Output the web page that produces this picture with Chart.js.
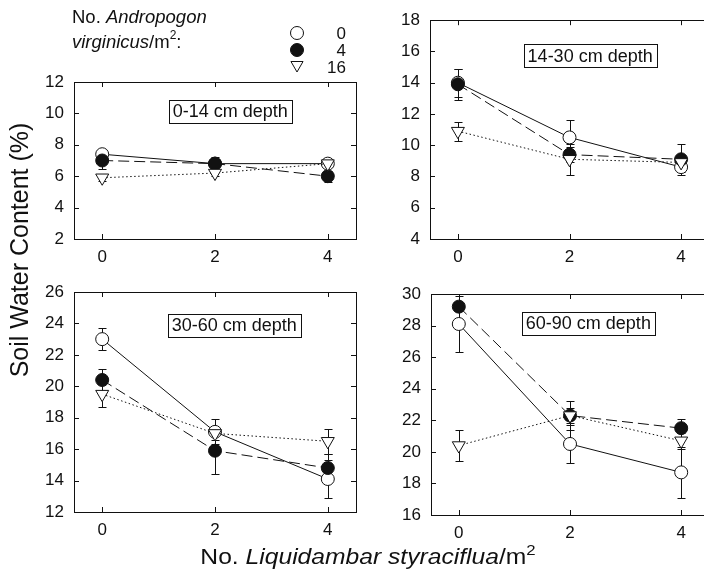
<!DOCTYPE html>
<html>
<head>
<meta charset="utf-8">
<script src="https://cdn.jsdelivr.net/npm/chart.js@4.4.0/dist/chart.umd.min.js"></script>
<style>
  html, body { margin: 0; padding: 0; background: #fff; overflow: hidden; }
  #page { position: relative; width: 704px; height: 577px; overflow: hidden; }
  canvas { position: absolute; left: 0; top: 0; }
</style>
</head>
<body>
<div id="page">
  <canvas id="p1" width="720" height="577"></canvas>
  <canvas id="p2" width="720" height="577"></canvas>
  <canvas id="p3" width="720" height="577"></canvas>
  <canvas id="p4" width="720" height="577"></canvas>
</div>
<script>
const FONT = '"Liberation Sans", Arial, Helvetica, sans-serif';
const INK = "#111";

// ===== Data =====
const xValues = [0, 2, 4]; // No. Liquidambar styraciflua / m2
const xTicks = [0, 2, 4];
const seriesNames = ["0", "4", "16"]; // No. Andropogon virginicus / m2
const depthLabels = ["0-14 cm depth", "14-30 cm depth", "30-60 cm depth", "60-90 cm depth"];
const yRanges = [[2, 12], [4, 18], [12, 26], [16, 30]];

// 0-14 cm
const open0to14 = [7.4, 6.8, 6.8];
const openErr0to14 = [0.3, 0.3, 0.2];
const filled0to14 = [7.0, 6.8, 6.0];
const filledErr0to14 = [0.55, 0.4, 0.35];
const tri0to14 = [5.9, 6.2, 6.8];
const triErr0to14 = [0.2, 0.2, 0.2];

// 14-30 cm
const open14to30 = [14.0, 10.5, 8.6];
const openErr14to30 = [0.9, 1.1, 0.3];
const filled14to30 = [13.9, 9.4, 9.1];
const filledErr14to30 = [1.0, 0.5, 1.0];
const tri14to30 = [10.9, 9.1, 8.9];
const triErr14to30 = [0.6, 1.0, 0.3];

// 30-60 cm
const open30to60 = [23.0, 17.1, 14.1];
const openErr30to60 = [0.7, 0.8, 1.2];
const filled30to60 = [20.4, 15.9, 14.8];
const filledErr30to60 = [0.7, 1.5, 0.9];
const tri30to60 = [19.5, 17.0, 16.5];
const triErr30to60 = [0.8, 0.4, 0.8];

// 60-90 cm
const open60to90 = [28.1, 20.5, 18.7];
const openErr60to90 = [1.8, 1.2, 1.6];
const filled60to90 = [29.2, 22.3, 21.5];
const filledErr60to90 = [0.8, 0.5, 0.6];
const tri60to90 = [20.4, 22.3, 20.7];
const triErr60to90 = [1.0, 0.9, 0.5];

// ===== Layout (plot area of each panel, page pixels) =====
const Y_AXIS_W = 40;
const X_AXIS_H = 30;
const PAGE_W = 720;
const PAGE_H = 577;
const panels = [
  { id: "p1", box: { left: 74, right: 356, top: 82, bottom: 239 }, tagAt: [2.27, 10.15],
    open: open0to14, openErr: openErr0to14, filled: filled0to14, filledErr: filledErr0to14, tri: tri0to14, triErr: triErr0to14 },
  { id: "p2", box: { left: 430, right: 709, top: 17, bottom: 239 }, tagAt: [2.37, 15.73],
    open: open14to30, openErr: openErr14to30, filled: filled14to30, filledErr: filledErr14to30, tri: tri14to30, triErr: triErr14to30 },
  { id: "p3", box: { left: 74, right: 356, top: 292, bottom: 512 }, tagAt: [2.34, 23.9],
    open: open30to60, openErr: openErr30to60, filled: filled30to60, filledErr: filledErr30to60, tri: tri30to60, triErr: triErr30to60 },
  { id: "p4", box: { left: 431, right: 709, top: 294, bottom: 515 }, tagAt: [2.33, 28.16],
    open: open60to90, openErr: openErr60to90, filled: filled60to90, filledErr: filledErr60to90, tri: tri60to90, triErr: triErr60to90 },
];

const toPoints = (values) => xValues.map((x, i) => ({ x, y: values[i] }));

// Frame, inward ticks and error bars, under the markers
const framePlugin = {
  id: "frame",
  beforeDatasetsDraw(chart) {
    const { ctx, chartArea: a, scales: { x, y } } = chart;
    ctx.save();
    ctx.strokeStyle = INK;
    ctx.lineWidth = 1;
    ctx.setLineDash([]);
    ctx.strokeRect(Math.round(a.left) + 0.5, Math.round(a.top) + 0.5,
      Math.round(a.right - a.left), Math.round(a.bottom - a.top));

    ctx.beginPath();
    x.ticks.forEach((t) => {
      const px = Math.round(x.getPixelForValue(t.value)) + 0.5;
      ctx.moveTo(px, a.bottom); ctx.lineTo(px, a.bottom - 5);
      ctx.moveTo(px, a.top); ctx.lineTo(px, a.top + 5);
    });
    y.ticks.forEach((t) => {
      const py = Math.round(y.getPixelForValue(t.value)) + 0.5;
      ctx.moveTo(a.left, py); ctx.lineTo(a.left + 5, py);
      ctx.moveTo(a.right, py); ctx.lineTo(a.right - 5, py);
    });
    ctx.stroke();

    ctx.beginPath();
    chart.data.datasets.forEach((ds) => {
      ds.data.forEach((pt, j) => {
        const e = ds.errors[j];
        if (!e) return;
        const px = Math.round(x.getPixelForValue(pt.x)) + 0.5;
        const top = Math.round(y.getPixelForValue(pt.y + e)) + 0.5;
        const bot = Math.round(y.getPixelForValue(pt.y - e)) + 0.5;
        ctx.moveTo(px, top); ctx.lineTo(px, bot);
        ctx.moveTo(px - 4, top); ctx.lineTo(px + 4, top);
        ctx.moveTo(px - 4, bot); ctx.lineTo(px + 4, bot);
      });
    });
    ctx.stroke();
    ctx.restore();
  },
};

// Boxed depth label inside each panel
const tagPlugin = {
  id: "tag",
  afterDraw(chart, args, opts) {
    const { ctx, scales: { x, y } } = chart;
    ctx.save();
    ctx.font = `18px ${FONT}`;
    ctx.strokeStyle = INK;
    ctx.lineWidth = 1;
    ctx.textAlign = "center";
    ctx.textBaseline = "middle";
    const cx = x.getPixelForValue(opts.at[0]);
    const cy = y.getPixelForValue(opts.at[1]);
    const w = ctx.measureText(opts.text).width + 8;
    const h = 23;
    ctx.fillStyle = "#fff";
    ctx.fillRect(cx - w / 2, cy - h / 2, w, h);
    ctx.strokeRect(Math.round(cx - w / 2) + 0.5, Math.round(cy - h / 2) + 0.5, Math.round(w), h);
    ctx.fillStyle = INK;
    ctx.fillText(opts.text, cx, cy + 1);
    ctx.restore();
  },
};

function drawRuns(ctx, runs, x, y) {
  runs.forEach((r) => {
    ctx.font = `${r.italic ? "italic " : ""}${r.size}px ${FONT}`;
    ctx.fillText(r.text, x, y + (r.dy || 0));
    x += ctx.measureText(r.text).width;
  });
}

function runsWidth(ctx, runs) {
  return runs.reduce((w, r) => {
    ctx.font = `${r.italic ? "italic " : ""}${r.size}px ${FONT}`;
    return w + ctx.measureText(r.text).width;
  }, 0);
}

function drawMarker(ctx, kind, x, y, r) {
  ctx.beginPath();
  if (kind === "tri") {
    ctx.moveTo(x - r * 0.866, y - r * 0.5);
    ctx.lineTo(x + r * 0.866, y - r * 0.5);
    ctx.lineTo(x, y + r);
    ctx.closePath();
  } else {
    ctx.arc(x, y, r, 0, Math.PI * 2);
  }
  ctx.fillStyle = kind === "filled" ? INK : "#fff";
  ctx.fill();
  ctx.stroke();
}

// Legend and the shared axis titles (drawn once, on the first canvas)
const pageTextPlugin = {
  id: "pageText",
  afterDraw(chart) {
    const { ctx } = chart;
    ctx.save();
    ctx.fillStyle = INK;
    ctx.strokeStyle = INK;
    ctx.lineWidth = 1;
    ctx.textBaseline = "middle";
    ctx.textAlign = "left";

    drawRuns(ctx, [{ text: "No. ", size: 18.5 }, { text: "Andropogon", size: 18.5, italic: true }], 72, 18);
    drawRuns(ctx, [
      { text: "virginicus", size: 18.5, italic: true },
      { text: "/m", size: 18.5 },
      { text: "2", size: 12, dy: -7 },
      { text: ":", size: 18.5 },
    ], 72, 43);

    const kinds = ["open", "filled", "tri"];
    kinds.forEach((k, i) => {
      const ly = 33 + i * 17;
      drawMarker(ctx, k, 297, k === "tri" ? ly - 2 : ly, k === "tri" ? 7 : 6.5);
      ctx.fillStyle = INK;
      ctx.textAlign = "right";
      ctx.font = `17px ${FONT}`;
      ctx.fillText(seriesNames[i], 346, ly + 1);
      ctx.textAlign = "left";
    });

    // y title
    ctx.save();
    ctx.translate(21, 250);
    ctx.rotate(-Math.PI / 2);
    ctx.textAlign = "center";
    ctx.font = `25px ${FONT}`;
    ctx.fillText("Soil Water Content (%)", 0, 0);
    ctx.restore();

    // x title (slightly wide lettering, as in the original print)
    const xRuns = [
      { text: "No. ", size: 22 },
      { text: "Liquidambar styraciflua", size: 22, italic: true },
      { text: "/m", size: 22 },
      { text: "2", size: 15, dy: -7 },
    ];
    const stretch = 1.12;
    const w = runsWidth(ctx, xRuns) * stretch;
    ctx.save();
    ctx.translate(368 - w / 2, 558);
    ctx.scale(stretch, 1);
    ctx.textAlign = "left";
    drawRuns(ctx, xRuns, 0, 0);
    ctx.restore();
    ctx.restore();
  },
};

function makePanel(p, i) {
  const [yMin, yMax] = yRanges[i];
  const common = { borderColor: INK, pointBorderColor: INK, borderWidth: 1, pointBorderWidth: 1, tension: 0, clip: false };
  const plugins = [framePlugin, tagPlugin];
  if (i === 0) plugins.push(pageTextPlugin);

  new Chart(document.getElementById(p.id), {
    type: "line",
    data: {
      datasets: [
        { ...common, label: seriesNames[2], data: toPoints(p.tri), errors: p.triErr,
          borderDash: [1.5, 2.5], pointStyle: "triangle", rotation: 180, pointRadius: 7.5,
          pointBackgroundColor: "#fff" },
        { ...common, label: seriesNames[1], data: toPoints(p.filled), errors: p.filledErr,
          borderDash: [11, 5], pointStyle: "circle", pointRadius: 6.5, pointBackgroundColor: INK },
        { ...common, label: seriesNames[0], data: toPoints(p.open), errors: p.openErr,
          pointStyle: "circle", pointRadius: 6.5, pointBackgroundColor: "#fff" },
      ],
    },
    options: {
      responsive: false,
      animation: false,
      events: [],
      layout: {
        padding: {
          left: p.box.left - Y_AXIS_W,
          top: p.box.top,
          right: PAGE_W - p.box.right,
          bottom: PAGE_H - p.box.bottom - X_AXIS_H,
        },
      },
      scales: {
        x: {
          type: "linear",
          min: -0.5,
          max: 4.5,
          afterBuildTicks: (axis) => { axis.ticks = xTicks.map((v) => ({ value: v })); },
          afterFit: (axis) => { axis.height = X_AXIS_H; },
          grid: { display: false, drawTicks: false },
          border: { display: false },
          ticks: { padding: 8, color: INK, font: { family: FONT, size: 17 } },
        },
        y: {
          min: yMin,
          max: yMax,
          afterFit: (axis) => { axis.width = Y_AXIS_W; },
          grid: { display: false, drawTicks: false },
          border: { display: false },
          ticks: { stepSize: 2, padding: 10, color: INK, font: { family: FONT, size: 17 } },
        },
      },
      plugins: {
        legend: { display: false },
        tooltip: { enabled: false },
        tag: { text: depthLabels[i], at: p.tagAt },
      },
    },
    plugins,
  });
}

panels.forEach(makePanel);
</script>
</body>
</html>
